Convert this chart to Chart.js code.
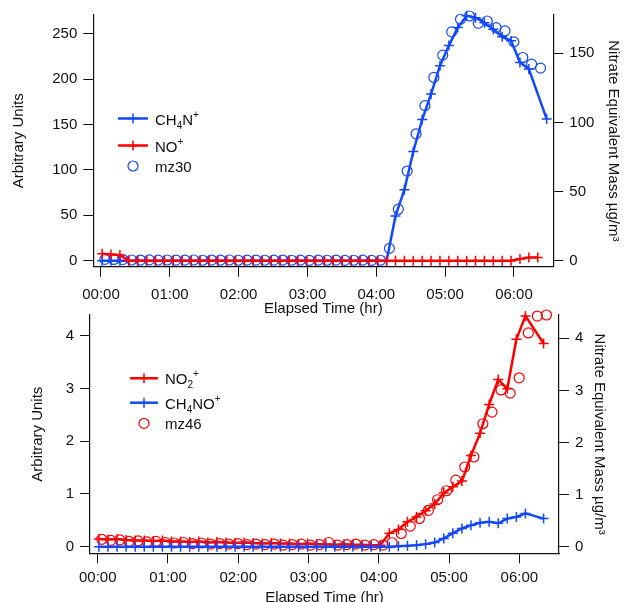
<!DOCTYPE html>
<html>
<head>
<meta charset="utf-8">
<script src="https://cdn.jsdelivr.net/npm/chart.js@4/dist/chart.umd.min.js"></script>
<style>
  html, body { margin: 0; padding: 0; background: #fff; overflow: hidden; }
  #wrap { position: relative; width: 628px; height: 602px; }
  canvas { position: absolute; left: 0; }
</style>
</head>
<body>
<div id="wrap">
  <canvas id="topChart" width="628" height="330" style="top:0"></canvas>
  <canvas id="botChart" width="628" height="320" style="top:300px"></canvas>
</div>
<script>
// elapsed time in minutes
const amsMinutes = [1, 8.75, 16.5, 24.25, 32, 39.75, 47.5, 55.25, 63, 70.75, 78.5, 86.25, 94, 101.75, 109.5,
  117.25, 125, 132.75, 140.5, 148.25, 156, 163.75, 171.5, 179.25, 187, 194.75, 202.5, 210.25, 218, 225.75,
  233.5, 241.25, 249, 256.75, 264.5, 272.25, 280, 287.75, 295.5, 303.25, 311, 318.75, 326.5, 334.25, 342,
  349.75, 357.5, 365.25, 373, 380.75, 388.5];
const mzMinutes = [3.4, 11.2, 18.9, 26.7, 34.4, 42.2, 49.9, 57.7, 65.4, 73.2, 80.9, 88.7, 96.4, 104.2, 111.9,
  119.7, 127.4, 135.2, 142.9, 150.7, 158.4, 166.2, 173.9, 181.7, 189.4, 197.2, 204.9, 212.7, 220.4, 228.2,
  235.9, 243.7, 251.4, 259.2, 266.9, 274.7, 282.4, 290.2, 297.9, 305.7, 313.4, 321.2, 328.9, 336.7, 344.4,
  352.2, 359.9, 367.7, 375.4, 383.2];

// top panel
const ch4nVals = [0, 0, 0, 0, 0, 0, 0, 0, 0, 0, 0, 0, 0, 0, 0, 0, 0, 0, 0, 0, 0, 0, 0, 0, 0, 0, 0, 0, 0, 0,
  0, 0, 0, 32.4, 51.4, 79, 102, 120.5, 141, 155.5, 168.5, 177, 175.7, 172, 167.3, 161.8, 159, 143.3, 138.5,
  null, 102.5];
const noVals = [5.0, 4.6, 4.2, 0, 0, 0, 0, 0, 0, 0, 0, 0, 0, 0, 0, 0, 0, 0, 0, 0, 0, 0, 0, 0, 0, 0, 0, 0, 0, 0,
  0, 0, 0, 0, 0, 0, 0, 0, 0, 0, 0, 0, 0, 0, 0, 0, 0, 1.2, 2.4, 2.4, null];
const mz30Vals = [1.5, 1.4, 1.3, 0.8, 0.7, 0.9, 0.6, 0.8, 0.7, 0.6, 0.8, 0.5, 0.7, 0.6, 0.8, 0.5, 0.6, 0.7,
  0.5, 0.6, 0.7, 0.5, 0.6, 0.4, 0.6, 0.5, 0.7, 0.4, 0.5, 0.6, 0.4, 0.5, 13.6, 56.7, 98.7, 139.7, 170.7,
  201.8, 226.3, 251.9, 265.8, 269.4, 261.4, 263.9, 256.6, 253, 240.9, 223.7, 216.4, 212];

// bottom panel
const no2Vals = [0.15, 0.14, 0.15, 0.13, 0.12, 0.12, 0.11, 0.12, 0.10, 0.10, 0.09, 0.10, 0.08, 0.09, 0.08,
  0.07, 0.08, 0.07, 0.06, 0.07, 0.06, 0.06, 0.05, 0.06, 0.05, 0.05, 0.04, 0.05, 0.04, 0.04, 0.03, 0.03,
  0.26, 0.33, 0.48, 0.57, 0.69, 0.82, 1.03, 1.15, 1.26, 1.75, 2.18, 2.73, 3.21, 3.03, 3.98, 4.43, null, 3.90, null];
const ch4noVals = [0, 0, 0, 0, 0, 0, 0, 0, 0, 0, 0, 0, 0, 0, 0, 0, 0, 0, 0, 0, 0, 0, 0, 0, 0, 0, 0, 0, 0, 0,
  0, 0, 0, 0.01, 0.02, 0.03, 0.05, 0.08, 0.16, 0.26, 0.35, 0.41, 0.46, 0.48, 0.45, 0.54, 0.57, 0.64, null, 0.54, null];
const mz46Vals = [0.14, 0.12, 0.13, 0.10, 0.11, 0.09, 0.10, 0.08, 0.07, 0.08, 0.06, 0.07, 0.05, 0.06, 0.05,
  0.06, 0.04, 0.05, 0.04, 0.05, 0.03, 0.04, 0.05, 0.03, 0.04, 0.08, 0.03, 0.04, 0.05, 0.03, 0.04, 0.03,
  0.075, 0.25, 0.39, 0.535, 0.69, 0.89, 1.06, 1.26, 1.51, 1.70, 2.33, 2.55, 2.97, 2.91, 3.20, 4.05, 4.37, 4.39];

// names: _x = subscript, ^x = superscript
const topNames = ['CH_4N^+', 'NO^+', 'mz30'];
const botNames = ['NO_2^+', 'CH_4NO^+', 'mz46'];

// ticks
const timeTicks = [0, 60, 120, 180, 240, 300, 360];
const timeLabels = ['00:00', '01:00', '02:00', '03:00', '04:00', '05:00', '06:00'];
const topLeftTicks = [0, 50, 100, 150, 200, 250];
const topRightTicks = [0, 50, 100, 150];
const botTicks = [0, 1, 2, 3, 4];

const BLUE = 'rgb(18,72,255)';
const RED = 'rgb(255,0,0)';
const INK = '#111';
const FONT = { family: '"Liberation Sans", Arial, sans-serif', size: 15 };

const pts = (xs, ys) => xs.map((x, i) => ({ x: x, y: ys[i] }));

function lineSet(label, xs, ys, color, axis, order) {
  return {
    label: label, data: pts(xs, ys), yAxisID: axis, order: order, clip: 8,
    showLine: true, spanGaps: true, borderColor: color, borderWidth: 2.5,
    pointStyle: 'cross', pointRadius: 5, pointBorderWidth: 1.5,
    pointBorderColor: color, pointBackgroundColor: color
  };
}

function circleSet(label, xs, ys, color, axis, order) {
  return {
    label: label, data: pts(xs, ys), yAxisID: axis, order: order, clip: 8,
    showLine: false, pointStyle: 'circle', pointRadius: 5, pointBorderWidth: 1.2,
    pointBorderColor: color, pointBackgroundColor: 'rgba(0,0,0,0)'
  };
}

function fixedTicks(list) {
  return s => { s.ticks = list.map(v => ({ value: v })); };
}

function yAxis(pos, min, max, list, width, title, titlePad) {
  return {
    type: 'linear', position: pos, min: min, max: max,
    afterBuildTicks: fixedTicks(list),
    afterFit: s => { s.width = width; },
    ticks: { font: FONT, color: INK, padding: 6 },
    grid: { drawOnChartArea: false, tickLength: 10, tickColor: INK, tickWidth: 1 },
    border: { color: INK, width: 1.2 },
    title: { display: true, text: title, font: FONT, color: INK, padding: { top: titlePad, bottom: 0 } }
  };
}

function xAxis(min, max, height, labelPad, titlePad) {
  return {
    type: 'linear', position: 'bottom', min: min, max: max,
    afterBuildTicks: fixedTicks(timeTicks),
    afterFit: s => { s.height = height; },
    ticks: { font: FONT, color: INK, padding: labelPad, maxRotation: 0, autoSkip: false,
             callback: v => timeLabels[timeTicks.indexOf(v)] },
    grid: { drawOnChartArea: false, tickLength: 10, tickColor: INK, tickWidth: 1 },
    border: { color: INK, width: 1.2 },
    title: { display: true, text: 'Elapsed Time (hr)', font: FONT, color: INK, padding: { top: 0, bottom: titlePad } }
  };
}

// legend drawn by hand so the chemical formulas keep their sub/superscripts
function legendPlugin(names, kinds, colors, rows, x0, x1, textX) {
  return {
    id: 'formulaLegend',
    afterDraw(chart) {
      const ctx = chart.ctx;
      const cx = (x0 + x1) / 2;
      ctx.save();
      names.forEach((name, i) => {
        const y = rows[i];
        ctx.strokeStyle = colors[i];
        if (kinds[i] === 'line') {
          ctx.lineWidth = 2.5;
          ctx.beginPath(); ctx.moveTo(x0, y); ctx.lineTo(x1, y); ctx.stroke();
          ctx.lineWidth = 1.5;
          ctx.beginPath();
          ctx.moveTo(cx - 5, y); ctx.lineTo(cx + 5, y);
          ctx.moveTo(cx, y - 5); ctx.lineTo(cx, y + 5);
          ctx.stroke();
        } else {
          ctx.lineWidth = 1.2;
          ctx.beginPath(); ctx.arc(cx, y, 5, 0, Math.PI * 2); ctx.stroke();
        }
        ctx.fillStyle = INK;
        ctx.textBaseline = 'alphabetic';
        ctx.textAlign = 'left';
        let x = textX;
        const base = y + 6;
        for (let k = 0; k < name.length; k++) {
          let ch = name[k], dy = 0, size = 15;
          if (ch === '_' || ch === '^') {
            dy = ch === '_' ? 4 : -7;
            size = 10;
            ch = name[++k];
          }
          ctx.font = size + 'px "Liberation Sans", Arial, sans-serif';
          ctx.fillText(ch, x, base + dy);
          x += ctx.measureText(ch).width;
        }
      });
      ctx.restore();
    }
  };
}

new Chart(document.getElementById('topChart'), {
  type: 'scatter',
  data: {
    datasets: [
      lineSet('NO+', amsMinutes, noVals, RED, 'yR', 0),
      circleSet('mz30', mzMinutes, mz30Vals, BLUE, 'yL', 1),
      lineSet('CH4N+', amsMinutes, ch4nVals, BLUE, 'yR', 2)
    ]
  },
  options: {
    responsive: false, animation: false, events: [],
    layout: { padding: { top: 14, left: 0, right: 0, bottom: 0 } },
    plugins: { legend: { display: false }, tooltip: { enabled: false } },
    scales: {
      x: xAxis(-6.7, 394.3, 63.3, 9, 12),
      yL: yAxis('left', -6.6, 270.5, topLeftTicks, 93.3, 'Arbitrary Units', 10),
      yR: yAxis('right', -4.3, 177.6, topRightTicks, 74.7, 'Nitrate Equivalent Mass \u00b5g/m\u00b3', 6)
    }
  },
  plugins: [legendPlugin(topNames, ['line', 'line', 'circle'], [BLUE, RED, BLUE],
                         [118.5, 145.5, 166], 118, 148, 155)]
});

new Chart(document.getElementById('botChart'), {
  type: 'scatter',
  data: {
    datasets: [
      lineSet('CH4NO+', amsMinutes, ch4noVals, BLUE, 'yR', 0),
      lineSet('NO2+', amsMinutes, no2Vals, RED, 'yR', 1),
      circleSet('mz46', mzMinutes, mz46Vals, RED, 'yL', 2)
    ]
  },
  options: {
    responsive: false, animation: false, events: [],
    layout: { padding: { top: 14, left: 0, right: 0, bottom: 0 } },
    plugins: { legend: { display: false }, tooltip: { enabled: false } },
    scales: {
      x: xAxis(-6.6, 393.9, 66.7, 6, 13),
      yL: yAxis('left', -0.125, 4.39, botTicks, 90, 'Arbitrary Units', 28.5),
      yR: yAxis('right', -0.126, 4.447, botTicks, 69, 'Nitrate Equivalent Mass \u00b5g/m\u00b3', 20)
    }
  },
  plugins: [legendPlugin(botNames, ['line', 'line', 'circle'], [RED, BLUE, RED],
                         [78.3, 102.7, 123.3], 130, 158, 165)]
});
</script>
</body>
</html>
